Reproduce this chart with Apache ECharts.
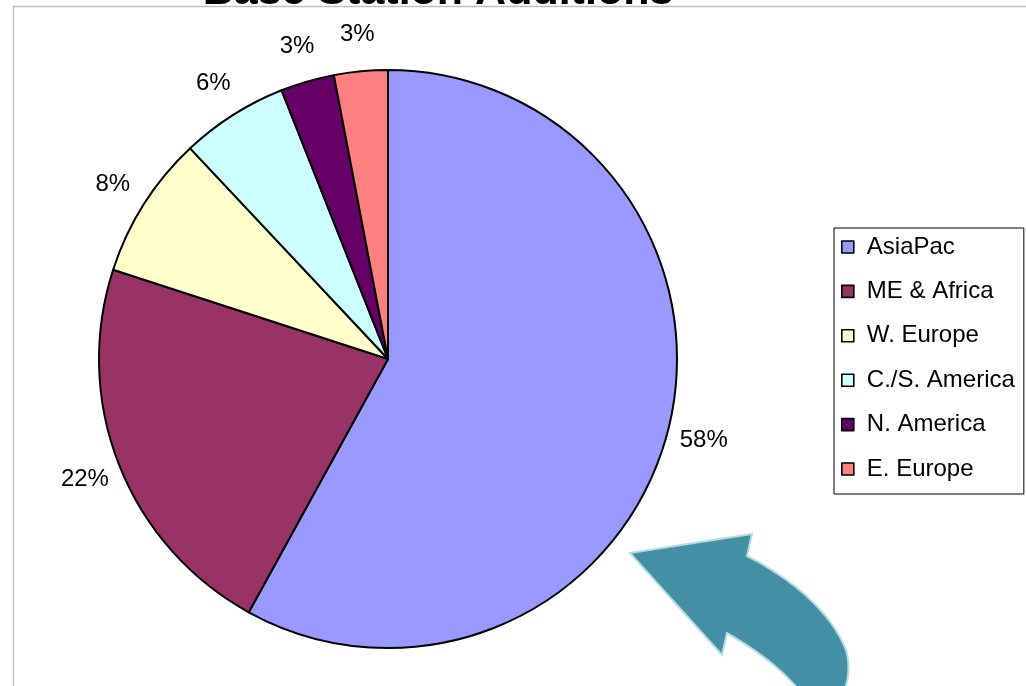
<!DOCTYPE html>
<html>
<head>
<meta charset="utf-8">
<title>Base Station Additions</title>
<script src="https://cdn.jsdelivr.net/npm/echarts@6/dist/echarts.min.js"></script>
<style>
  html, body { margin: 0; padding: 0; background: #ffffff; }
  #chart { width: 1026px; height: 686px; }
</style>
</head>
<body>
<div id="chart"></div>
<script>
// Regions and their share of base station additions (percent)
const regions = ['AsiaPac', 'ME & Africa', 'W. Europe', 'C./S. America', 'N. America', 'E. Europe'];
const shares = [58, 22, 8, 6, 3, 3];
const sliceColors = ['#9999FF', '#993366', '#FFFFCC', '#CCFFFF', '#660066', '#FF8080'];

const FONT = '"Liberation Sans", Arial, sans-serif';
const PIE_CENTER = [388, 359];
const PIE_RADIUS = 289;

const sliceData = regions.map((name, i) => ({
  name: name,
  value: shares[i],
  itemStyle: { color: sliceColors[i] }
}));

// Outline of the curved call-out arrow: straight segments and cubic curves,
// flattened into a polygon outline.
function cubic(p0, p1, p2, p3, steps) {
  const pts = [];
  for (let s = 1; s <= steps; s++) {
    const t = s / steps, u = 1 - t;
    pts.push([
      u * u * u * p0[0] + 3 * u * u * t * p1[0] + 3 * u * t * t * p2[0] + t * t * t * p3[0],
      u * u * u * p0[1] + 3 * u * u * t * p1[1] + 3 * u * t * t * p2[1] + t * t * t * p3[1]
    ]);
  }
  return pts;
}
const arrowOutline = [].concat(
  [[630, 553], [752, 534], [747, 556]],
  cubic([747, 556], [790, 578], [830, 610], [846, 650], 24),
  cubic([846, 650], [852, 670], [846, 690], [840, 700], 10),
  [[806, 700]],
  cubic([806, 700], [790, 675], [760, 652], [727, 633], 20),
  [[722, 655]]
);

const chart = echarts.init(document.getElementById('chart'), null, { renderer: 'canvas' });

chart.setOption({
  animation: false,
  backgroundColor: '#ffffff',
  legend: {
    orient: 'vertical',
    left: 834,
    top: 228,
    data: regions,
    icon: 'rect',
    itemWidth: 12,
    itemHeight: 12,
    itemGap: 20.4,
    padding: [7, 9, 13, 7],
    borderColor: '#000000',
    borderWidth: 1,
    selectedMode: false,
    itemStyle: { borderColor: '#000000', borderWidth: 1.6 },
    textStyle: {
      fontFamily: FONT,
      fontSize: 24,
      color: '#000000',
      padding: [0, 0, 0, 8]
    }
  },
  series: [
    {
      // the pie itself
      type: 'pie',
      center: PIE_CENTER,
      radius: PIE_RADIUS,
      startAngle: 90,
      clockwise: true,
      silent: true,
      label: { show: false },
      labelLine: { show: false },
      itemStyle: { borderColor: '#000000', borderWidth: 2 },
      data: sliceData
    },
    {
      // invisible ring just outside the pie that carries the percentage labels
      type: 'pie',
      center: PIE_CENTER,
      radius: [PIE_RADIUS + 12, PIE_RADIUS + 56],
      startAngle: 90,
      clockwise: true,
      silent: true,
      avoidLabelOverlap: false,
      itemStyle: { color: 'rgba(0,0,0,0)', borderWidth: 0 },
      label: {
        show: true,
        position: 'inside',
        formatter: '{c}%',
        fontFamily: FONT,
        fontSize: 24,
        color: '#000000'
      },
      labelLine: { show: false },
      data: regions.map((name, i) => ({ name: name, value: shares[i] }))
    }
  ],
  graphic: [
    {
      // frame of the chart area
      type: 'polyline',
      silent: true,
      shape: { points: [[13.5, 686], [13.5, 6.5], [1026, 6.5]] },
      style: { stroke: '#c0c0c0', lineWidth: 1.5, fill: null }
    },
    {
      type: 'text',
      silent: true,
      x: 438,
      y: -8,
      style: {
        text: 'Base Station Additions',
        font: 'bold 43px ' + FONT,
        fill: '#000000',
        align: 'center',
        verticalAlign: 'middle'
      }
    },
    {
      // curved call-out arrow pointing at the AsiaPac slice
      type: 'polygon',
      silent: true,
      z: 10,
      shape: { points: arrowOutline },
      style: { fill: '#448FA3', stroke: '#B4DCE6', lineWidth: 2, lineJoin: 'miter' }
    }
  ]
});
</script>
</body>
</html>
